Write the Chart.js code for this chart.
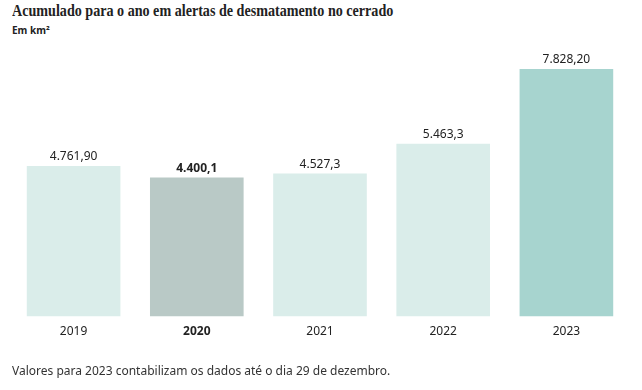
<!DOCTYPE html>
<html>
<head>
<meta charset="utf-8">
<script src="https://cdn.jsdelivr.net/npm/chart.js@4"></script>
<style>
  body { margin: 0; background: #fff; }
  #wrap { position: relative; width: 642px; height: 390px; }
  #title { position: absolute; left: 12px; top: 1px; font: bold 17px "Liberation Serif", serif; color: #222; white-space: nowrap; transform: scaleX(0.83); transform-origin: left top; }
  #sub { position: absolute; left: 12px; top: 23px; font: bold 10px "Noto Sans", sans-serif; color: #222; }
  #note { position: absolute; left: 12px; top: 362px; font: 12px "Noto Sans", sans-serif; color: #333; white-space: nowrap; }
  canvas { position: absolute; left: 0; top: 0; }
</style>
</head>
<body>
<div id="wrap">
  <div id="title">Acumulado para o ano em alertas de desmatamento no cerrado</div>
  <div id="sub">Em km²</div>
  <canvas id="myChart" width="642" height="390"></canvas>
  <div id="note">Valores para 2023 contabilizam os dados até o dia 29 de dezembro.</div>
</div>
<script>
'use strict';
const anos = ['2019', '2020', '2021', '2022', '2023'];
const valores = [4761.90, 4400.1, 4527.3, 5463.3, 7828.20];
const rotulos = ['4.761,90', '4.400,1', '4.527,3', '5.463,3', '7.828,20'];
const cores = ['#daedea', '#b9c9c6', '#daedea', '#daedea', '#a7d4cf'];
const destaque = 1; // 2020 em negrito

// Rótulos de valor acima das barras
const valueLabels = {
    id: 'valueLabels',
    afterDatasetsDraw(chart) {
        const ctx = chart.ctx;
        const meta = chart.getDatasetMeta(0);
        ctx.save();
        ctx.textAlign = 'center';
        ctx.textBaseline = 'bottom';
        ctx.fillStyle = '#222';
        meta.data.forEach(function (bar, i) {
            ctx.font = (i === destaque ? 'bold ' : '') + '12px "Noto Sans", sans-serif';
            ctx.fillText(rotulos[i], bar.x, bar.y - 3);
        });
        ctx.restore();
    }
};

new Chart(document.getElementById('myChart').getContext('2d'), {
    type: 'bar',
    data: {
        labels: anos,
        datasets: [{
            data: valores,
            backgroundColor: cores,
            borderWidth: 0,
            categoryPercentage: 1,
            barPercentage: 0.76
        }]
    },
    options: {
        responsive: false,
        animation: false,
        layout: { padding: { left: 12, right: 14, top: 50, bottom: 51 } },
        plugins: { legend: { display: false }, tooltip: { enabled: false } },
        scales: {
            x: {
                grid: { display: false },
                border: { display: false },
                ticks: {
                    padding: 0,
                    color: '#222',
                    font: function (c) {
                        return { family: '"Noto Sans", sans-serif', size: 12, weight: c.index === destaque ? 'bold' : 'normal' };
                    }
                }
            },
            y: { display: false, min: 0, max: 8430 }
        }
    },
    plugins: [valueLabels]
});
</script>
</body>
</html>
